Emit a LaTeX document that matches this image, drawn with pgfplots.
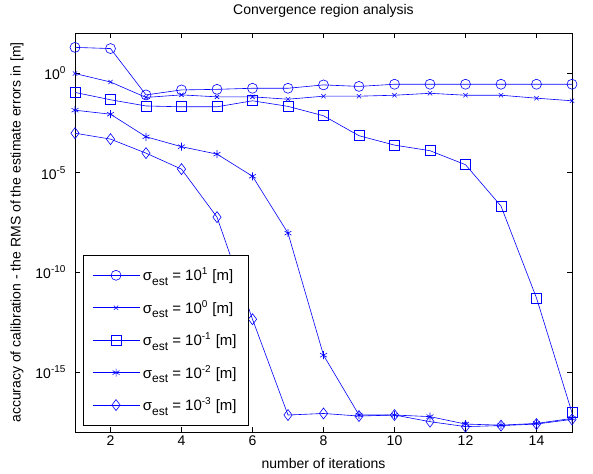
\documentclass[border=0pt]{standalone}
\usepackage{fontspec}
\setmainfont{Liberation Sans}
\usepackage{pgfplots}
\pgfplotsset{compat=1.18}
\newcommand{\lbl}{\fontsize{14pt}{16pt}\selectfont}
\newcommand{\est}{\raisebox{-4.5pt}{\fontsize{12pt}{13pt}\selectfont est}}
\newcommand{\ex}[1]{\raisebox{6pt}{\fontsize{10pt}{11pt}\selectfont #1}}
\newcommand{\unit}{\hspace{5pt}[m]}
\begin{document}
\begin{tikzpicture}[x=1pt,y=1pt]
\useasboundingbox (-75,-41) rectangle (518,432);
\begin{axis}[
    at={(0pt,0pt)}, anchor=south west,
    scale only axis, width=497pt, height=399pt,
    ymode=log,
    xmin=1, xmax=15, ymin=1e-18, ymax=1e2,
    xtick={2,4,...,14},
    ytick={1e-15,1e-10,1e-5,1},
    yticklabels={10\ex{-15},10\ex{-10},10\ex{-5},10\ex{0}},
    minor tick num=0,
    tick align=inside,
    major tick length=5pt,
    tick style={black, line width=0.5pt},
    axis line style={black, line width=0.6pt},
    /pgf/number format/assume math mode=true,
    tick label style={font=\lbl},
    yticklabel style={xshift=-6pt},
    title={Convergence region analysis},
    title style={font=\lbl, at={(axis description cs:0.5,1)}, anchor=center, yshift=16pt},
    xlabel={number of iterations},
    xlabel style={font=\lbl, at={(axis description cs:0.5,0)}, anchor=center, yshift=-31pt},
    ylabel={accuracy of calibration - the RMS of the estimate errors in [m]},
    ylabel style={font=\lbl, at={(axis description cs:0,0.5)}, anchor=center, yshift=58pt},
    every axis plot/.append style={blue, line width=0.6pt},
    legend style={
        at={(axis description cs:0.016,0.016)}, anchor=south west,
        draw=black, line width=0.6pt, fill=white,
        row sep=14pt, inner xsep=9pt, inner ysep=11pt,
        font=\fontsize{15pt}{17pt}\selectfont,
        nodes={inner xsep=3pt},
    },
    legend cell align=left,
    legend image code/.code={
        \draw[blue, mark repeat=2, mark phase=2] plot coordinates {(0pt,0pt) (23.5pt,0pt) (47pt,0pt)};
    },
]
\addplot[blue, mark=o, mark size=5pt] coordinates {
(1,1.9e1) (2,1.66e1) (3,7.9e-2) (4,1.4e-1) (5,1.5e-1) (6,1.7e-1) (7,1.7e-1) (8,2.5e-1)
(9,2.1e-1) (10,2.7e-1) (11,2.7e-1) (12,2.7e-1) (13,2.7e-1) (14,2.7e-1) (15,2.7e-1)};
\addlegendentry{σ\est{} = 10\ex{1}\unit}
\addplot[blue, mark=x, mark size=3pt] coordinates {
(1,9.3e-1) (2,3.5e-1) (3,5.9e-2) (4,7.9e-2) (5,6.3e-2) (6,6.3e-2) (7,4.8e-2) (8,6.8e-2)
(9,6.8e-2) (10,7.6e-2) (11,9.5e-2) (12,7.6e-2) (13,7.6e-2) (14,5.4e-2) (15,4e-2)};
\addlegendentry{σ\est{} = 10\ex{0}\unit}
\addplot[blue, mark=square, mark size=5pt] coordinates {
(1,1.05e-1) (2,4.5e-2) (3,2.2e-2) (4,2e-2) (5,2e-2) (6,4e-2) (7,2.1e-2) (8,7.1e-3)
(9,7.1e-4) (10,2.4e-4) (11,1.26e-4) (12,2.5e-5) (13,2.1e-7) (14,5.2e-12) (15,9.3e-18)};
\addlegendentry{σ\est{} = 10\ex{-1}\unit}
\addplot[blue, mark=asterisk, mark size=4pt] coordinates {
(1,1.35e-2) (2,8.5e-3) (3,6.3e-4) (4,2e-4) (5,8.5e-5) (6,6.6e-6) (7,9.3e-9) (8,7.1e-15)
(9,7.1e-18) (10,7.1e-18) (11,5.9e-18) (12,2.5e-18) (13,2.2e-18) (14,2.7e-18) (15,4.8e-18)};
\addlegendentry{σ\est{} = 10\ex{-2}\unit}
\addplot[blue, mark=diamond, mark size=5.5pt] coordinates {
(1,9.5e-4) (2,4.8e-4) (3,9.5e-5) (4,1.5e-5) (5,5.9e-8) (6,4.5e-13) (7,7.1e-18) (8,8.5e-18)
(9,6.3e-18) (10,7.1e-18) (11,3.3e-18) (12,1.86e-18) (13,2.1e-18) (14,2.5e-18) (15,4.3e-18)};
\addlegendentry{σ\est{} = 10\ex{-3}\unit}
\end{axis}
\end{tikzpicture}
\end{document}
